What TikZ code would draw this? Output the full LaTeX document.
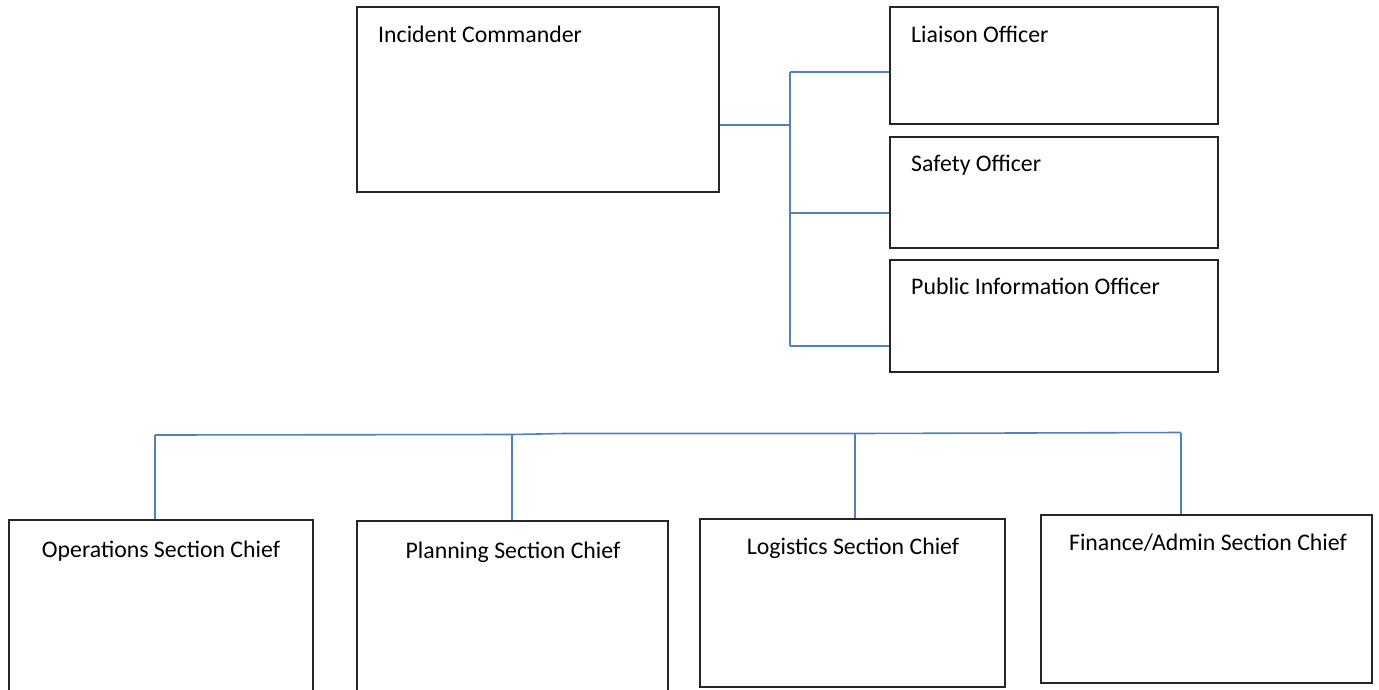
\documentclass[tikz,border=0pt]{standalone}
\usepackage{fontspec}
\setmainfont{Carlito}
\definecolor{conn}{HTML}{4F81BD}
\begin{document}
\begin{tikzpicture}[x=1pt,y=-1pt,
  box/.style={draw=black!85, line width=1.2pt, minimum width=0, inner sep=0},
  lbl/.style={inner sep=0, anchor=base west, font=\fontsize{23.8}{26}\selectfont},
  lblc/.style={inner sep=0, anchor=base, font=\fontsize{23.8}{26}\selectfont},
  link/.style={draw=conn, line width=1.6pt}]
\useasboundingbox (0,0) rectangle (1379,689);
\clip (0,0) rectangle (1379,689);
% boxes
\node[box, minimum width=362, minimum height=185] (ic) at (538,99.5) {};
\node[box, minimum width=328, minimum height=117] (lo) at (1054,65.5) {};
\node[box, minimum width=328, minimum height=111] (so) at (1054,192.5) {};
\node[box, minimum width=328, minimum height=112] (pio) at (1054,316) {};
\node[box, minimum width=304, minimum height=190] (ops) at (161,615) {};
\node[box, minimum width=311, minimum height=189] (pln) at (512.5,615.5) {};
\node[box, minimum width=305, minimum height=168] (log) at (852.5,603) {};
\node[box, minimum width=331, minimum height=168] (fin) at (1206.5,599) {};
% labels
\node[lbl] (tic) at (378,42) {Incident Commander};
\node[lbl] (tlo) at (911,42) {Liaison Officer};
\node[lbl] (tso) at (911,171) {Safety Officer};
\node[lbl] (tpio) at (911,294) {Public Information Officer};
\node[lblc] (tops) at (161,557) {Operations Section Chief};
\node[lblc] (tpln) at (513,558) {Planning Section Chief};
\node[lblc] (tlog) at (853,554) {Logistics Section Chief};
\node[lblc] (tfin) at (1208,550) {Finance/Admin Section Chief};
% connector coordinates
\coordinate (ja) at (790,125);
\coordinate (jl) at (790,72);
\coordinate (js) at (790,213);
\coordinate (jp) at (790,346);
\coordinate (bm) at (564,433.5);
\coordinate (b1) at (155,435);
\coordinate (b2) at (512,434.5);
\coordinate (b3) at (855,433.5);
\coordinate (b4) at (1181,432.5);
% staff connectors
\draw[link] (ja -| ic.east) -- (ja);
\draw[link] (jl) -- (jp);
\draw[link] (jl) -- (jl -| lo.west);
\draw[link] (js) -- (js -| so.west);
\draw[link] (jp) -- (jp -| pio.west);
% sections
\draw[link] (bm -| ic.south) -- (bm);
\draw[link] (b1) -- (b2) -- (bm) -- (b3) -- (b4);
\draw[link] (b1) -- (b1 |- ops.north);
\draw[link] (b2) -- (b2 |- pln.north);
\draw[link] (b3) -- (b3 |- log.north);
\draw[link] (b4) -- (b4 |- fin.north);
\end{tikzpicture}
\end{document}
